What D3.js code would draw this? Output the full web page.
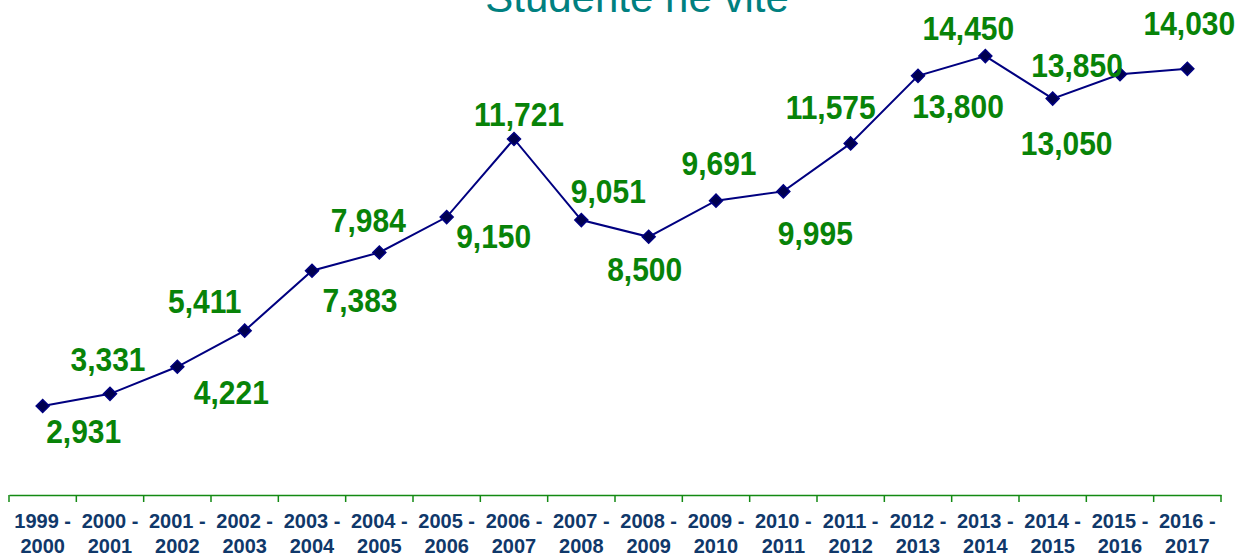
<!DOCTYPE html>
<html>
<head>
<meta charset="utf-8">
<script src="https://cdn.jsdelivr.net/npm/d3@7"></script>
<style>
  body { margin: 0; background: #fff; }
  svg { display: block; font-family: "Liberation Sans", Arial, sans-serif; }
</style>
</head>
<body>
<script>
// data

var years = ["1999 - 2000", "2000 - 2001", "2001 - 2002", "2002 - 2003", "2003 - 2004",
             "2004 - 2005", "2005 - 2006", "2006 - 2007", "2007 - 2008", "2008 - 2009",
             "2009 - 2010", "2010 - 2011", "2011 - 2012", "2012 - 2013", "2013 - 2014",
             "2014 - 2015", "2015 - 2016", "2016 - 2017"];
var students = [2931, 3331, 4221, 5411, 7383, 7984, 9150, 11721, 9051, 8500,
                9691, 9995, 11575, 13800, 14450, 13050, 13850, 14030];

// label placement relative to its point (dx, dy of the baseline)
var labelOffsets = [[41, 37], [-2, -23], [54, 37], [-40, -18], [48, 41], [-11, -20],
                    [47, 31], [5, -13], [27, -17], [-4, 44], [3, -26], [32, 54],
                    [-20, -24], [40, 42], [-17, -16], [14, 56], [-43, 3], [2, -34]];

var width = 1241, height = 557;
var margin = { left: 9, right: 20, top: 9, bottom: 62 };

var svg = d3.select("body").append("svg")
    .attr("width", width)
    .attr("height", height);

var x = d3.scaleBand()
    .domain(years)
    .range([margin.left, width - margin.right]);
var y = d3.scaleLinear()
    .domain([0, 16000])
    .range([height - margin.bottom, margin.top]);

// title (cut at top like the original)
svg.append("text")
    .attr("x", 637).attr("y", 12)
    .attr("text-anchor", "middle")
    .attr("font-size", 42)
    .attr("fill", "#008080")
    .text("Studente në vite");

// x axis
var xAxis = svg.append("g")
    .attr("transform", "translate(0," + y(0) + ")")
    .call(d3.axisBottom(x).tickSize(0).tickFormat(""));
xAxis.select(".domain").attr("stroke", "#138a13").attr("stroke-width", 1.5);
xAxis.selectAll(".tick").remove();
var tickPos = years.map(function(d) { return x(d); }).concat([x.range()[1]]);
xAxis.selectAll(".sep").data(tickPos).enter().append("line")
    .attr("class", "sep")
    .attr("x1", function(d) { return d; }).attr("x2", function(d) { return d; })
    .attr("y1", 0).attr("y2", 7)
    .attr("stroke", "#138a13").attr("stroke-width", 1.5);

var xLabels = svg.append("g").selectAll("text").data(years).enter().append("text")
    .attr("text-anchor", "middle")
    .attr("font-size", 20)
    .attr("font-weight", "bold")
    .attr("fill", "#10386a");
xLabels.append("tspan")
    .attr("x", function(d) { return x(d) + x.bandwidth() / 2; })
    .attr("y", 528)
    .text(function(d) { return d.split(" - ")[0] + " -"; });
xLabels.append("tspan")
    .attr("x", function(d) { return x(d) + x.bandwidth() / 2; })
    .attr("y", 553)
    .text(function(d) { return d.split(" - ")[1]; });

// line
var cx = function(d, i) { return x(years[i]) + x.bandwidth() / 2; };
var line = d3.line()
    .x(cx)
    .y(function(d) { return y(d); });

svg.append("path")
    .datum(students)
    .attr("fill", "none")
    .attr("stroke", "#000080")
    .attr("stroke-width", 2)
    .attr("d", line);

svg.append("g").selectAll("path").data(students).enter().append("path")
    .attr("transform", function(d, i) { return "translate(" + cx(d, i) + "," + y(d) + ")"; })
    .attr("d", "M0,-6.5 L6.5,0 L0,6.5 L-6.5,0 Z")
    .attr("fill", "#000050")
    .attr("stroke", "#000080")
    .attr("stroke-width", 1.5);

// data labels
var fmt = d3.format(",");
svg.append("g").selectAll("text").data(students).enter().append("text")
    .attr("transform", function(d, i) {
      return "translate(" + (cx(d, i) + labelOffsets[i][0]) + "," + (y(d) + labelOffsets[i][1]) + ") scale(1,1.1)";
    })
    .attr("text-anchor", "middle")
    .attr("font-size", 30)
    .attr("font-weight", "bold")
    .attr("fill", "#088308")
    .text(function(d) { return fmt(d); });
</script>
</body>
</html>
